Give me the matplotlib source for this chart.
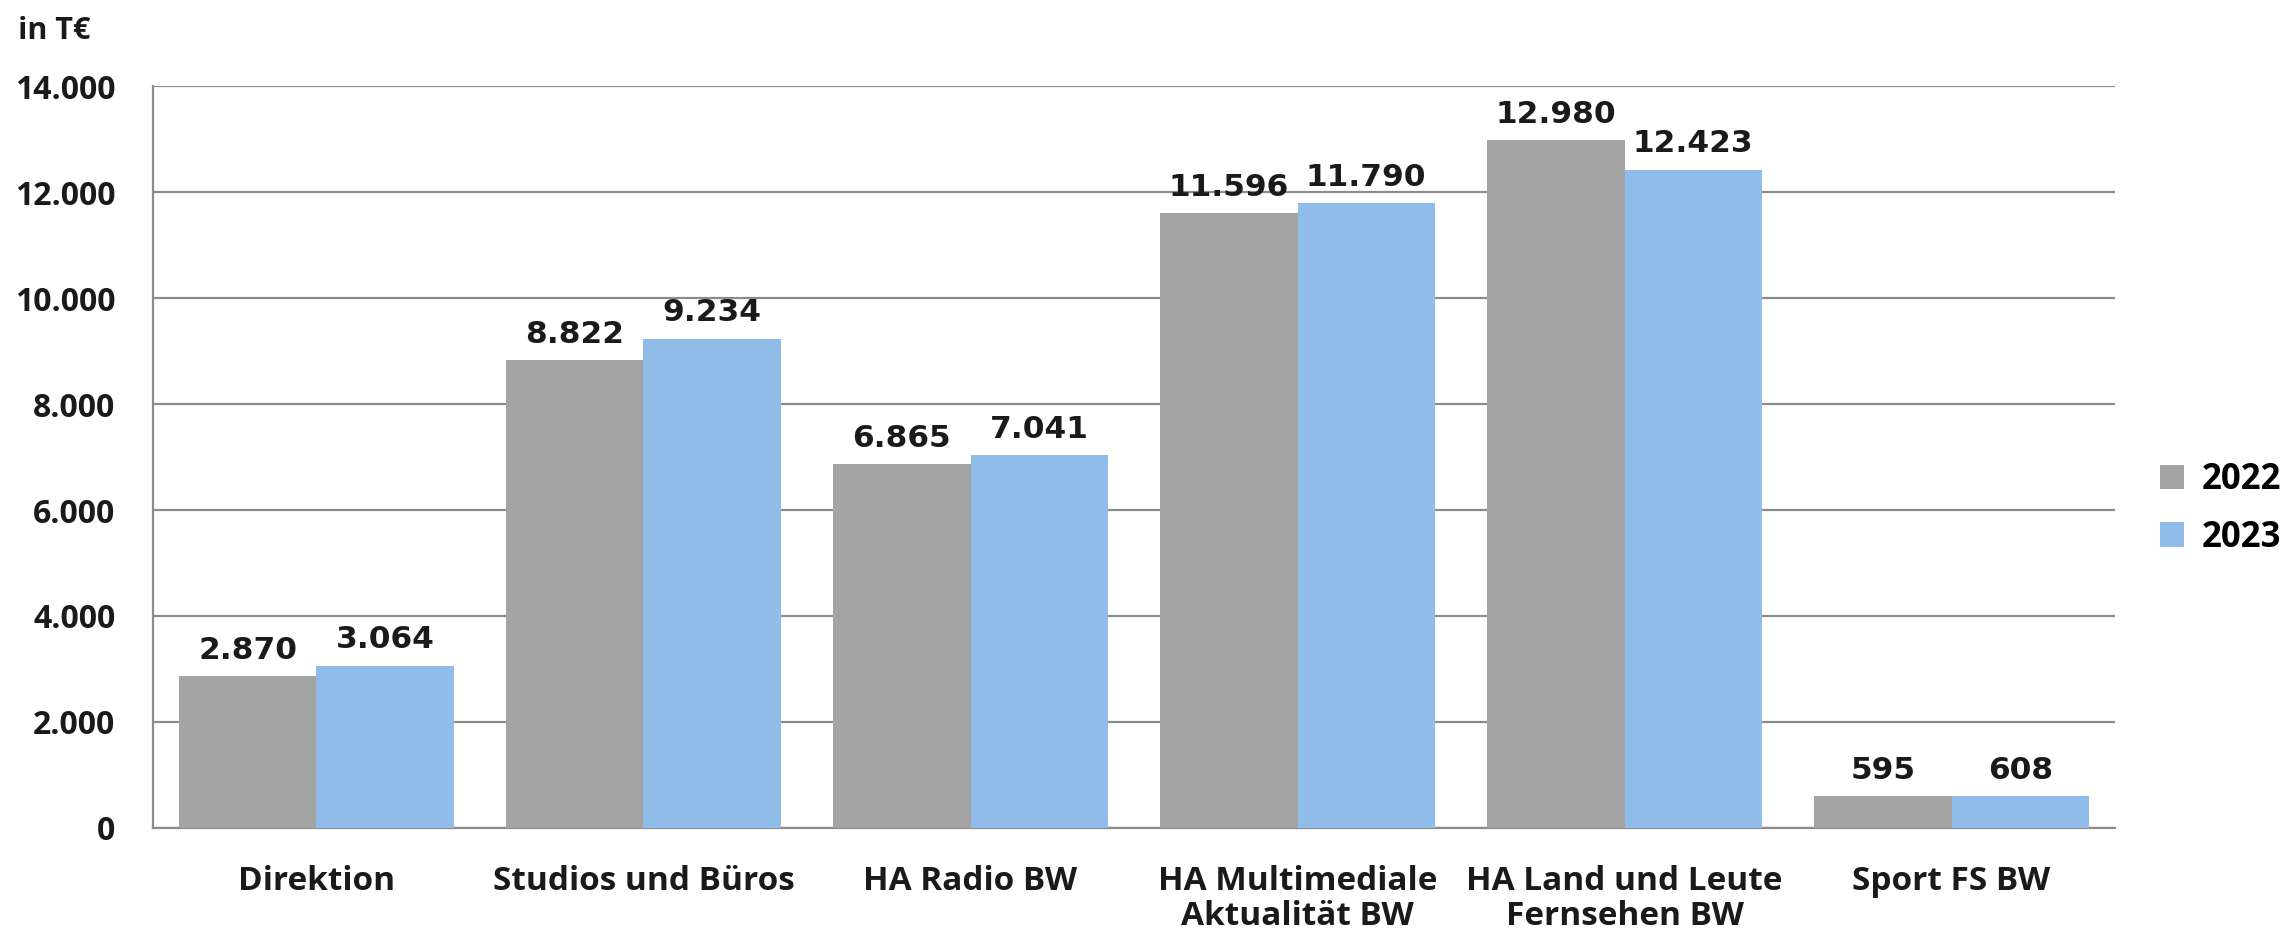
import matplotlib
matplotlib.use("Agg")
import matplotlib.pyplot as plt
import numpy as np
from matplotlib import font_manager

# Data (in T€)
categories = ["Direktion", "Studios und Büros", "HA Radio BW",
              "HA Multimediale\nAktualität BW", "HA Land und Leute\nFernsehen BW",
              "Sport FS BW"]
values_2022 = [2870, 8822, 6865, 11596, 12980, 595]
values_2023 = [3064, 9234, 7041, 11790, 12423, 608]
series_labels = ["2022", "2023"]
y_ticks = [0, 2000, 4000, 6000, 8000, 10000, 12000, 14000]

gray = "#a4a4a4"
blue = "#8fbce9"
grid_col = "#8c8c8c"
ink = "#1a1a1a"

names = {f.name for f in font_manager.fontManager.ttflist}


def pick(cands):
    for c in cands:
        if c in names:
            return [c, "DejaVu Sans"]
    return ["DejaVu Sans"]


sans = pick(["Open Sans", "Roboto", "Lato"])
wide = ["DejaVu Sans"]
plt.rcParams["font.family"] = sans
plt.rcParams["font.weight"] = "bold"


def fmt(v):
    return f"{v:,}".replace(",", ".")


fig = plt.figure(figsize=(22.9, 9.32), dpi=100)
ax = fig.add_axes([0.0668, 0.1116, 0.8568, 0.7961])

x = np.arange(len(categories))
w = 0.42
b1 = ax.bar(x - w / 2, values_2022, w, color=gray, label=series_labels[0], zorder=3)
b2 = ax.bar(x + w / 2, values_2023, w, color=blue, label=series_labels[1], zorder=3)

# value labels above each bar
for bars, vals in ((b1, values_2022), (b2, values_2023)):
    for r, v in zip(bars, vals):
        ax.annotate(fmt(v), (r.get_x() + r.get_width() / 2, v),
                    xytext=(0, 8), textcoords="offset points",
                    ha="center", va="bottom", fontsize=22.5, fontweight="bold",
                    color=ink, family=wide)

ax.set_xlim(-0.5, len(categories) - 0.5)
ax.set_ylim(0, 14000)
ax.set_yticks(y_ticks)
ax.set_yticklabels([fmt(t) for t in y_ticks], fontsize=23, fontweight="bold",
                   color=ink)
ax.set_xticks(x)
ax.set_xticklabels(categories, fontsize=24, fontweight="bold", color=ink,
                   linespacing=1.08, va="top")
ax.tick_params(axis="both", length=0)
ax.tick_params(axis="y", pad=27)
ax.tick_params(axis="x", pad=27)

ax.yaxis.grid(True, color=grid_col, linewidth=1.6, zorder=0)
ax.set_axisbelow(True)
for s in ("top", "right"):
    ax.spines[s].set_visible(False)
for s in ("left", "bottom"):
    ax.spines[s].set_color(grid_col)
    ax.spines[s].set_linewidth(1.6)

fig.text(0.008, 0.958, "in T€", fontsize=22, fontweight="bold", color=ink,
         ha="left", va="baseline")

leg = ax.legend(loc="center left", bbox_to_anchor=(1.0, 0.43), frameon=False,
                prop={"size": 25, "weight": "bold"},
                handlelength=0.7, handleheight=0.7, handletextpad=0.5,
                labelspacing=0.62, borderaxespad=0.9)

fig.savefig("out.png", dpi=100, facecolor="white")
